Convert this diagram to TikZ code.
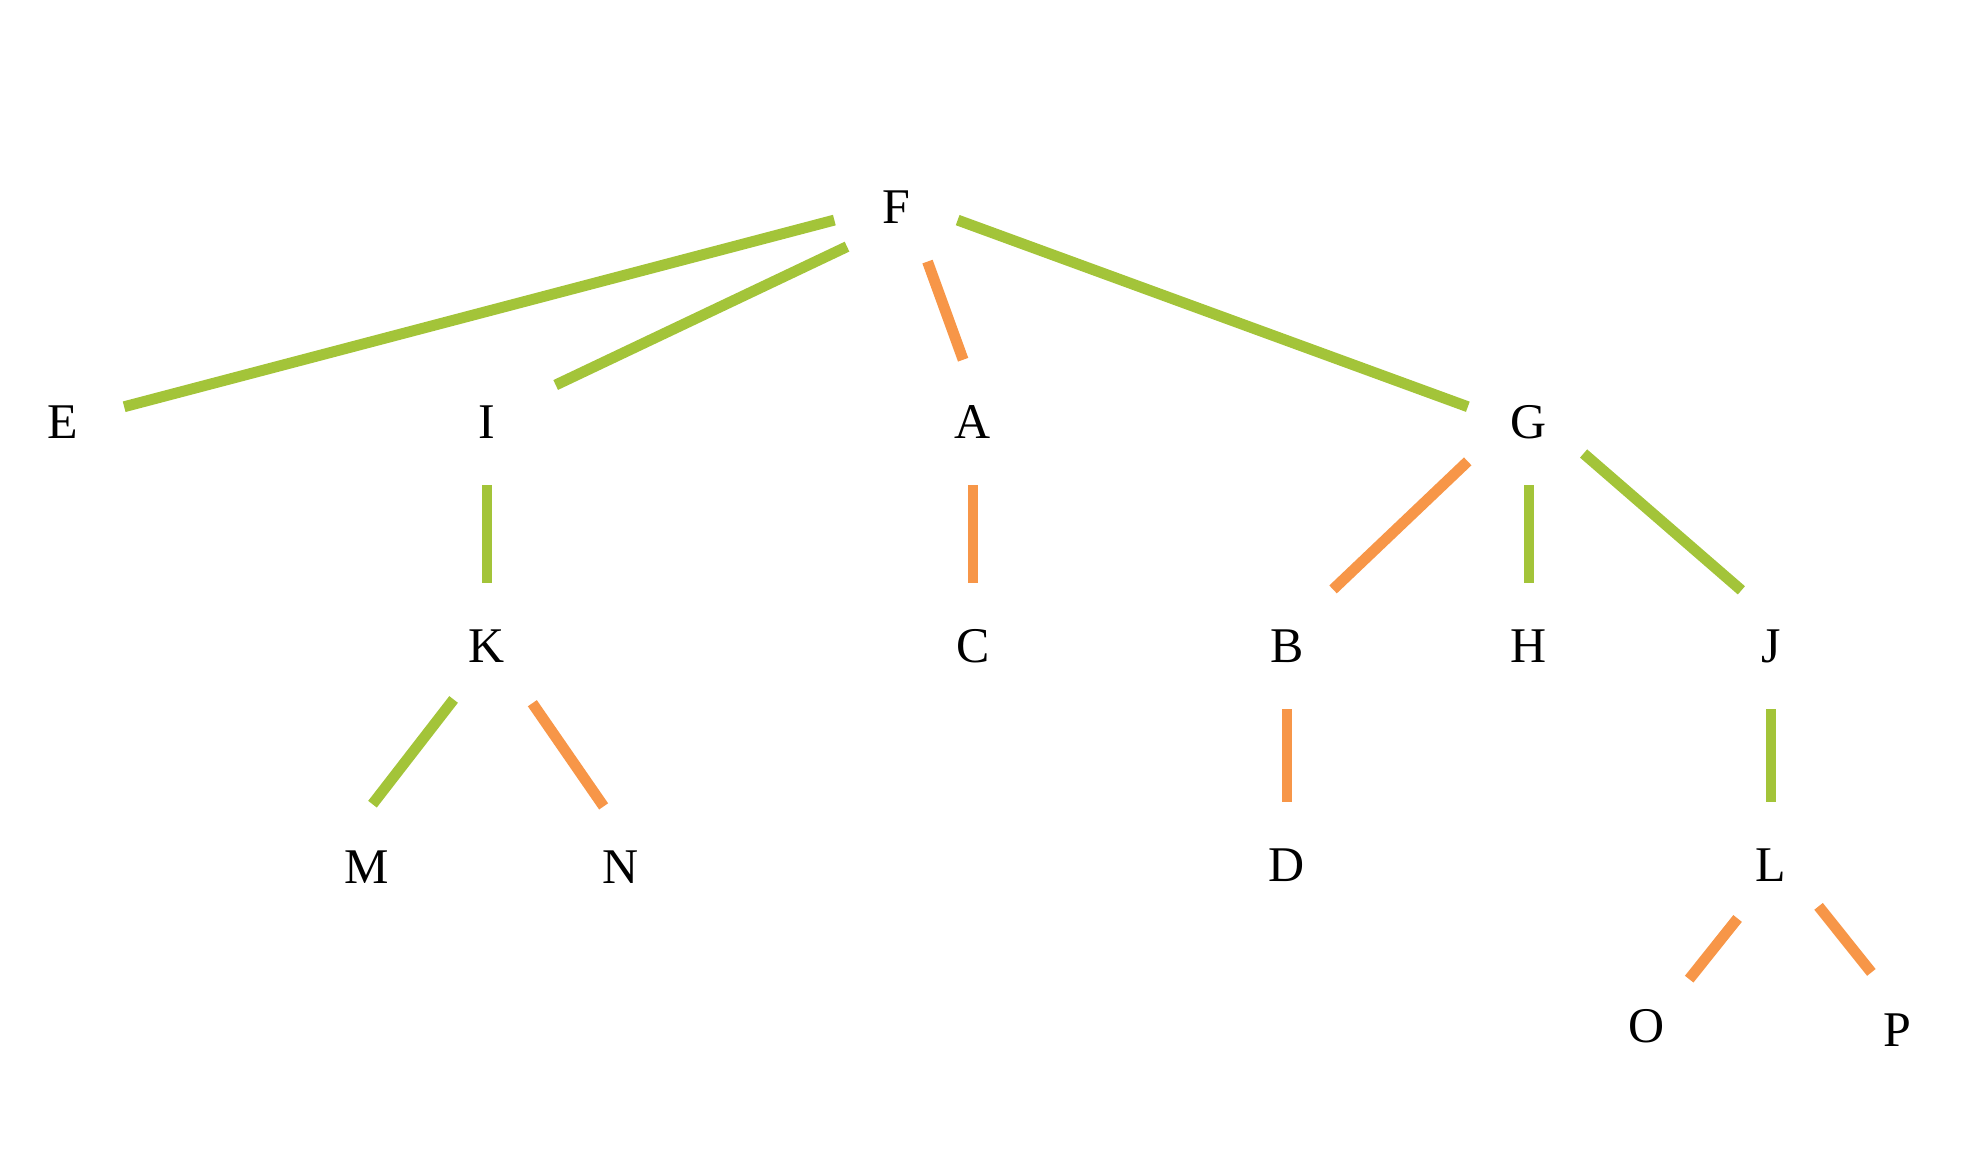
\documentclass[tikz,border=0pt]{standalone}
\usepackage{fontspec}
\setmainfont{Liberation Serif}
\definecolor{treegreen}{RGB}{163,196,57}
\definecolor{treeorange}{RGB}{247,150,72}
\usetikzlibrary{positioning}

\begin{document}
\begin{tikzpicture}[x=0.01cm, y=-0.01cm,
    lbl/.style={circle, inner sep=0pt, outer sep=0pt, minimum size=1.26cm,
                text height=0.33cm, text depth=0pt,
                font=\fontsize{14.2}{17}\selectfont},
    grn/.style={draw=treegreen, line width=3.1pt},
    org/.style={draw=treeorange, line width=3.1pt}
  ]
    \useasboundingbox (0,0) rectangle (1965,1149);

    % Root
    \node[lbl] (F) at (896,207) {F};

    % Level 1
    \node[lbl] (E) at (63,422)   {E};
    \node[lbl] (I) at (487,422)  {I};
    \node[lbl] (A) at (973,422)  {A};
    \node[lbl] (G) at (1529,422) {G};

    % Level 2
    \node[lbl] (K) at (487,646)  {K};
    \node[lbl] (C) at (973,646)  {C};
    \node[lbl] (B) at (1287,646) {B};
    \node[lbl] (H) at (1529,646) {H};
    \node[lbl] (J) at (1771,646) {J};

    % Level 3
    \node[lbl] (M) at (367,867)  {M};
    \node[lbl] (N) at (621,867)  {N};
    \node[lbl] (D) at (1287,865) {D};
    \node[lbl] (L) at (1771,865) {L};

    % Level 4
    \node[lbl] (O) at (1647,1026) {O};
    \node[lbl] (P) at (1897,1030) {P};

    % Edges
    \draw[grn] (F.192) -- (E.14);
    \draw[grn, shorten >=0.15cm] (F.219) -- (I.29);
    \draw[org] (F.300) -- (A.99);
    \draw[grn] (F.348) -- (G.166);
    \draw[grn] (I) -- (K);
    \draw[org] (A) -- (C);
    \draw[org, shorten <=0.1cm, shorten >=0.1cm] (G.211) -- (B.52);
    \draw[grn] (G) -- (H);
    \draw[grn] (G.330) -- (J.118);
    \draw[grn] (K.238) -- (M.85);
    \draw[org, shorten <=0.1cm] (K.309) -- (N.106);
    \draw[org] (B) -- (D);
    \draw[grn] (J) -- (L);
    \draw[org] (L.238) -- (O.48);
    \draw[org] (L.319) -- (P.114);
  \end{tikzpicture}
\end{document}
